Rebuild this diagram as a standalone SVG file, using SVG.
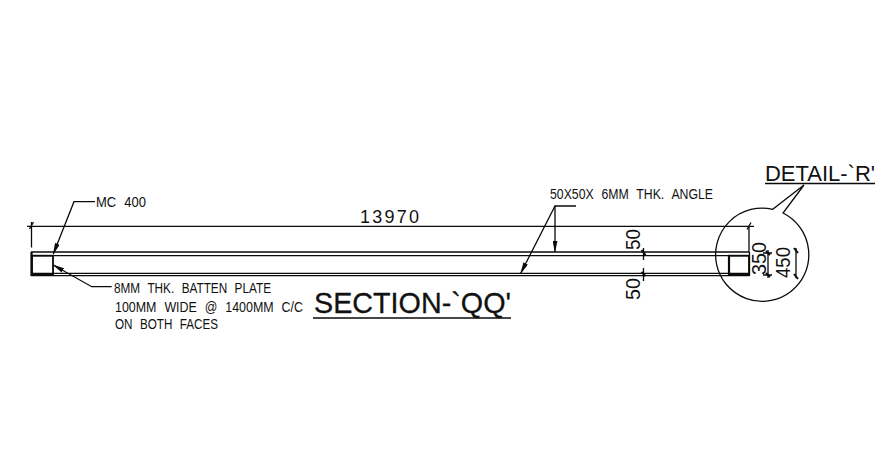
<svg xmlns="http://www.w3.org/2000/svg" width="892" height="472" viewBox="0 0 892 472">
<style>
.l{fill:none;stroke:#0a0a0a;stroke-width:1.3}
.h{fill:none;stroke:#0a0a0a;stroke-width:2.2}
.k{fill:none;stroke:#0a0a0a;stroke-width:2}
text{font-family:"Liberation Sans",Arial,sans-serif;fill:#111}
.t{font-size:14px;word-spacing:5px}
.d{font-size:18px}
.r{font-size:20px}
.b{font-size:22px}
.s{font-size:29px;stroke:#111;stroke-width:.3}
</style>
<defs>
<marker id="a" markerWidth="12" markerHeight="5" refX="11" refY="2.500" orient="auto" markerUnits="userSpaceOnUse"><path d="M0 0L12 2.500L0 5Z" fill="#0a0a0a"/></marker>
</defs>
<rect width="892" height="472" fill="#fff"/>
<g id="beam">
<path class="l" d="M31 252H749M31 255.700H749M31 273.300H749M31 275.700H749"/>
<rect x="32" y="255.700" width="21" height="19.300" fill="none" stroke="#0a0a0a" stroke-width="1.800"/>
<rect x="729" y="255.700" width="20" height="19.300" fill="none" stroke="#0a0a0a" stroke-width="1.800"/>
<path class="h" d="M31.500 252V276M32 275H53M729 255V275M729 275H749"/>
<path class="l" d="M749.500 252V276"/>
</g>
<g id="connectors">
<path class="l" d="M27 226.300H754M31.500 222V247.500M749 226V252"/>
<path class="l" d="M29.500 229L33.500 222M747 229.500L751 222.500"/>
<path class="l" marker-end="url(#a)" d="M95 201.700H74L53.300 254"/>
<path class="l" marker-end="url(#a)" d="M111.700 286.700H91.700L53.300 265"/>
<path class="l" marker-end="url(#a)" d="M576 206H555V251.700"/>
<path class="l" marker-end="url(#a)" d="M555 206L520.700 273.300"/>
<path class="l" d="M643.500 248V260M643.500 268V281"/>
<path class="k" d="M641.500 250L645.500 255M641.500 272L645.500 276"/>
<path class="l" d="M768 250V278M763 253H772M763 275H772"/>
<path class="k" d="M766 251L770 255M766 273L770 277"/>
<path class="l" d="M796 248V278"/>
<path class="k" d="M794 248L798 253M794 274L798 279"/>
</g>
<g id="detail-r">
<path class="l" d="M783 213A46.600 46.600 0 1 1 772.700 209.300L804 185Z"/>
<path class="l" d="M765 183.500H875"/>
<text class="b" x="765" y="180.700" textLength="110" lengthAdjust="spacingAndGlyphs">DETAIL-`R'</text>
</g>
<g id="section-qq">
<path class="l" d="M313 318H511"/>
<text class="s" x="314" y="313" textLength="197" lengthAdjust="spacingAndGlyphs">SECTION-`QQ'</text>
</g>
<g id="labels">
<text class="d" x="360" y="223" textLength="59" lengthAdjust="spacing">13970</text>
<text class="t" x="96" y="206.700" textLength="50" lengthAdjust="spacingAndGlyphs">MC 400</text>
<text class="t" x="114" y="292.700" textLength="157" lengthAdjust="spacingAndGlyphs">8MM THK. BATTEN PLATE</text>
<text class="t" x="115" y="311.700" textLength="188" lengthAdjust="spacingAndGlyphs">100MM WIDE @ 1400MM C/C</text>
<text class="t" x="115" y="328.700" textLength="103" lengthAdjust="spacingAndGlyphs">ON BOTH FACES</text>
<text class="t" x="550" y="199" textLength="163" lengthAdjust="spacingAndGlyphs">50X50X 6MM THK. ANGLE</text>
<text class="r" transform="translate(640 250) rotate(-90)" textLength="21" lengthAdjust="spacingAndGlyphs">50</text>
<text class="r" transform="translate(640 300) rotate(-90)" textLength="22" lengthAdjust="spacingAndGlyphs">50</text>
<text class="r" transform="translate(766 275) rotate(-90)" textLength="33" lengthAdjust="spacingAndGlyphs">350</text>
<text class="r" transform="translate(790 278) rotate(-90)" textLength="31" lengthAdjust="spacingAndGlyphs">450</text>
</g>
</svg>
